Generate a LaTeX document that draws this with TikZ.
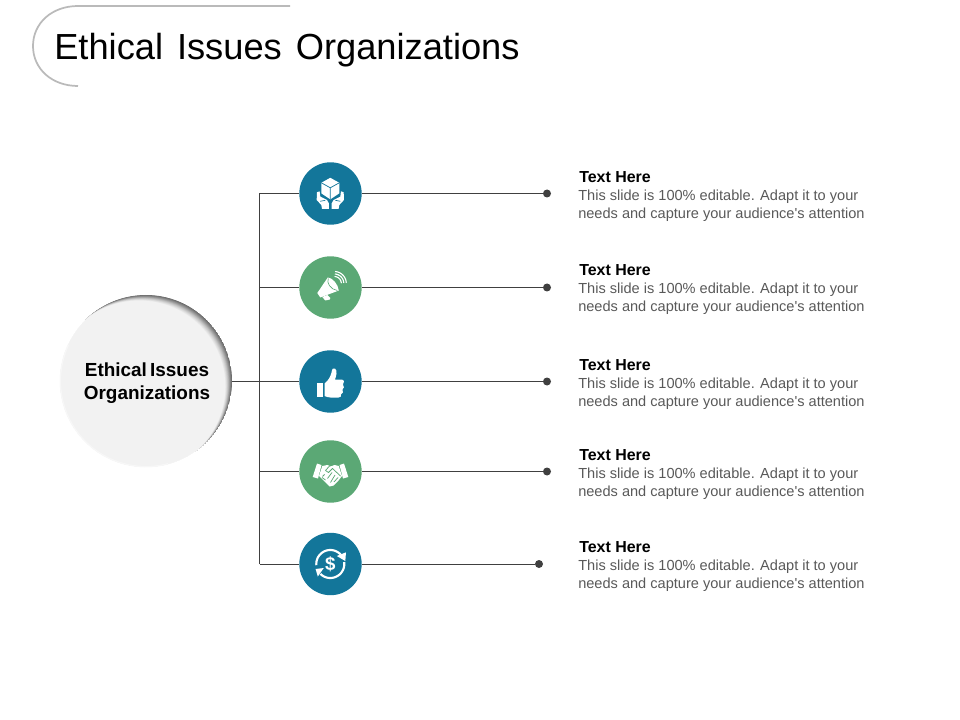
\documentclass[tikz,border=0pt]{standalone}
\usepackage{fontspec}
\setmainfont{Liberation Sans}
\newfontfamily\plainbody{Liberation Sans}
\definecolor{teal1}{HTML}{13769A}
\definecolor{green1}{HTML}{5BA875}
\definecolor{line1}{HTML}{404040}
\definecolor{body1}{HTML}{595959}
\definecolor{rim1}{HTML}{F7F7F7}
\tikzset{
  iconbg/.style={circle,minimum size=46.8pt,inner sep=0pt,draw=none},
  tealc/.style={iconbg,fill=teal1},
  greenc/.style={iconbg,fill=green1},
  conn/.style={draw=line1,line width=0.75pt},
  enddot/.style={circle,fill=line1,minimum size=6pt,inner sep=0pt},
  headtext/.style={anchor=west,inner sep=0pt,font=\fontsize{11.95}{13}\selectfont\bfseries,text=black},
  bodytext/.style={anchor=west,inner sep=0pt,font=\plainbody\fontsize{10.93}{13.5}\selectfont,text=body1,align=left},
  ic/.style={fill=white,draw=none}
}
\begin{document}
\begin{tikzpicture}[x=0.75pt,y=-0.75pt]
\useasboundingbox (0,0) rectangle (960,720);
% title decoration
\draw[draw=black!27,line width=1.3pt] (290,6) -- (78,6) .. controls (52,6) and (33,23) .. (33,46) .. controls (33,69) and (52,86) .. (78,86);
\node[anchor=base west,inner sep=0pt,font=\fontsize{27.2}{30}\selectfont,text=black] (title) at (54,60) {\spaceskip=0.385em Ethical Issues Organizations};
% hub shading
\begin{scope}
\clip (146,381) circle (86);
\fill[black!58] (146,381) circle (86);
\foreach \t/\c in {1/55,2/52,3/48,4/44,5/40,6/36,7/32,8/28,9/24,10/21,11/18,12/15,13/12,14/10,15/7.5,16/5}{
  \fill[black!\c] ({146-0.42*\t},{381+0.35*\t}) circle (86);
}
\end{scope}
\draw[draw=white,line width=0.8pt] plot[domain=55:225,samples=60] ({146+86.6*cos(\x)},{381+86.6*sin(\x)});
\draw[draw=rim1,line width=1pt] plot[domain=75:205,samples=50] ({146+85.6*cos(\x)},{381+85.6*sin(\x)});
\node[circle,minimum size=129pt,inner sep=0pt,align=center,font=\fontsize{14.2}{17.2}\selectfont\bfseries,text=black] (hub) at (147,383) {Ethical\,Issues\\Organizations};
\coordinate (hubr) at (232,381.5);
% icon circles
\node[tealc] (c1) at (330.5,193.5) {};
\node[greenc] (c2) at (330.5,287.5) {};
\node[tealc] (c3) at (330.5,381.5) {};
\node[greenc] (c4) at (330.5,471.5) {};
\node[tealc] (c5) at (330.5,564) {};
% spine coordinates and dots
\coordinate (s1) at (259.5,193.5);
\coordinate (s2) at (259.5,287.5);
\coordinate (s3) at (259.5,381.5);
\coordinate (s4) at (259.5,471.5);
\coordinate (s5) at (259.5,564);
\node[enddot] (d1) at (547,193.5) {};
\node[enddot] (d2) at (547,287.5) {};
\node[enddot] (d3) at (547,381.5) {};
\node[enddot] (d4) at (547,471.5) {};
\node[enddot] (d5) at (539,564) {};
\draw[conn] (s1) -- (s5);
\draw[conn] (hubr) -- (c3.west);
\foreach \i in {1,2,4,5}{\draw[conn] (s\i) -- (c\i.west);}
\foreach \i in {1,2,3,4,5}{\draw[conn] (c\i.east) -- (d\i.west);}
% texts
\node[headtext] (h1) at (579,177) {Text Here};
\node[headtext] (h2) at (579,270) {Text Here};
\node[headtext] (h3) at (579,365) {Text Here};
\node[headtext] (h4) at (579,455) {Text Here};
\node[headtext] (h5) at (579,547) {Text Here};
\node[bodytext] (b1) at (578,206) {This slide is 100\% editable. Adapt it to your\\needs and capture your audience's attention};
\node[bodytext] (b2) at (578,299) {This slide is 100\% editable. Adapt it to your\\needs and capture your audience's attention};
\node[bodytext] (b3) at (578,394) {This slide is 100\% editable. Adapt it to your\\needs and capture your audience's attention};
\node[bodytext] (b4) at (578,484) {This slide is 100\% editable. Adapt it to your\\needs and capture your audience's attention};
\node[bodytext] (b5) at (578,576) {This slide is 100\% editable. Adapt it to your\\needs and capture your audience's attention};
% icon 1: cube in hands
\begin{scope}[shift={(330.3,193.3)}]
\fill[ic] (0,-15.5) -- (9,-10.5) -- (9,0) -- (0,6) -- (-9,0) -- (-9,-10.5) -- cycle;
\draw[draw=teal1,line width=0.55pt] (-9,-10.5) -- (0,-5.5) -- (9,-10.5) (0,-5.5) -- (0,6);
\fill[ic] (-13.4,-1) -- (-10.7,-2) -- (-10,3.3) -- (-3.3,6.7) -- (-1.4,10) -- (-1.4,15.5) -- (-8.3,15.5) -- (-9,11.7) -- (-13.6,6.7) -- cycle;
\fill[ic] (13.4,-1) -- (10.7,-2) -- (10,3.3) -- (3.3,6.7) -- (1.4,10) -- (1.4,15.5) -- (8.3,15.5) -- (9,11.7) -- (13.6,6.7) -- cycle;
\draw[draw=teal1,line width=0.5pt] (-10,8) -- (-5,7) (10,8) -- (5,7);
\end{scope}
% icon 2: megaphone
\begin{scope}[shift={(330.3,287.5)}]
\fill[ic] (-13,5.5) -- (-2.5,-10) .. controls (2,-10) and (8,-3) .. (8.5,3) -- (-10,10) -- cycle;
\draw[draw=green1,line width=0.45pt] (-2,-9) .. controls (-4,-5) and (0,2) .. (7,3);
\fill[ic] (-8,9.5) -- (-3,7.5) -- (0,10.5) -- (-0.5,12) -- (-5,13) -- cycle;
\foreach \r in {7,9.5,12}{
  \draw[draw=white,line width=0.85pt,line cap=round] plot[domain=-85:-5,samples=14] ({4+\r*cos(\x)},{-4+\r*sin(\x)});
}
\end{scope}
% icon 3: thumbs up
\begin{scope}[shift={(330.5,381.5)}]
\fill[ic] (-13.5,1) rectangle (-7.5,15);
\fill[ic] (-6,2) .. controls (-2,-1) and (0,-5) .. (1,-9) .. controls (1.5,-13) and (3,-14) .. (4.5,-13) .. controls (7,-11) and (6,-6) .. (4.5,-2) -- (11,-2) .. controls (14,-2) and (14,2) .. (12.5,3) .. controls (14,5) and (13.5,7) .. (12,8) .. controls (13,10) and (12.5,12) .. (10.5,13) .. controls (11,15) and (10,16) .. (8,16) -- (0,16) .. controls (-3,16) and (-4,15) .. (-6,14.5) -- cycle;
\end{scope}
% icon 4: handshake
\begin{scope}[shift={(330.5,471.5)}]
\fill[ic] (-17.8,5.5) -- (-13.5,-8) -- (-9,-6.5) -- (-12.5,7) -- cycle;
\fill[ic] (17.8,5.5) -- (13.5,-8) -- (9,-6.5) -- (12.5,7) -- cycle;
\fill[ic] (-8.2,-5.5) -- (-3,-6.5) -- (0,-5) -- (4,-6.5) -- (8.2,-5.5) -- (11.5,4.5) -- (8,9) -- (3,14) -- (-1,15) -- (-5,11) -- (-11.5,4.5) -- cycle;
\draw[draw=green1,line width=0.55pt,line join=round] (-5,-1) -- (-1,-5.5) (-5,-1) -- (-2,1) -- (2,-3) -- (10,4.5) (7.5,6) -- (3.5,10.5) (4.5,3.5) -- (0,11) (1.5,1) -- (-3,7) (-6,3) -- (-8,5) (-8.5,6) -- (-5,8.5);
\end{scope}
% icon 5: dollar with arrows
\begin{scope}[shift={(330.3,564)}]
\draw[draw=white,line width=1.6pt] plot[domain=175:318,samples=30] ({14*cos(\x)},{14*sin(\x)});
\draw[draw=white,line width=1.6pt] plot[domain=-8:135,samples=30] ({14*cos(\x)},{14*sin(\x)});
\fill[ic] (6.5,-8) -- (15.7,-11.7) -- (15,-3) -- cycle;
\fill[ic] (-6.5,4) -- (-14.7,5) -- (-12.5,12.5) -- cycle;
\node[inner sep=0pt,text=white,font=\fontsize{14}{14}\selectfont\bfseries] (dollar) at (0,0) {\$};
\end{scope}
\end{tikzpicture}
\end{document}
